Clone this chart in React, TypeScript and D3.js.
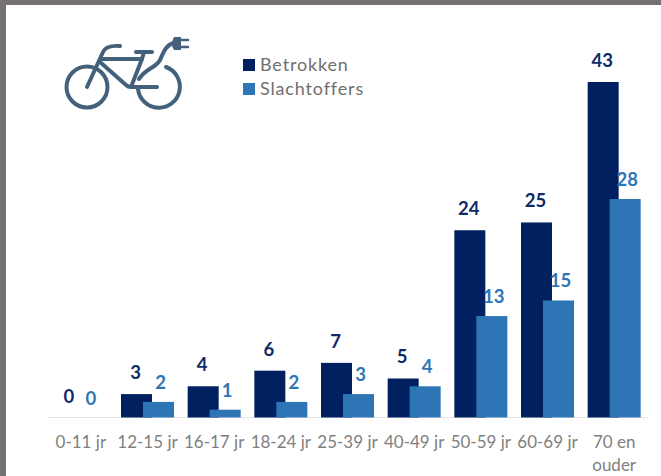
import React from "react";
import * as d3 from "d3";

const categories = ["0-11 jr", "12-15 jr", "16-17 jr", "18-24 jr", "25-39 jr", "40-49 jr", "50-59 jr", "60-69 jr", "70 en|ouder"];
const betrokken = [0, 3, 4, 6, 7, 5, 24, 25, 43];
const slachtoffers = [0, 2, 1, 2, 3, 4, 13, 15, 28];
const seriesNames = ["Betrokken", "Slachtoffers"];
const DARK = "#002060";
const BLUE = "#2E75B6";
const ICON = "#44617B";
const FONT = "Lato, Carlito, sans-serif";

export default function App() {
  const x = d3.scaleBand().domain(categories).range([47.5, 647.5]).padding(0);
  const y = d3.scaleLinear().domain([0, 43]).range([417.5, 82]);
  const bw = 31;
  const shift = 11;
  return (
    <svg width={661} height={476} style={{ position: "absolute", left: 0, top: 0, fontFamily: FONT }}>
      <rect width={661} height={476} fill="#fff" />
      <rect width={661} height={5} fill="#767171" />
      <rect width={6} height={476} fill="#767171" />
      <line x1={47.5} x2={648} y1={417.5} y2={417.5} stroke="#e4e4e4" strokeWidth={1.2} />
      {categories.map((c, i) => {
        const cx = x(c)! + x.bandwidth() / 2;
        const lines = c.split("|");
        return (
          <g key={c}>
            <rect x={cx - shift - bw / 2} y={y(betrokken[i])} width={bw} height={y(0) - y(betrokken[i])} fill={DARK} />
            <rect x={cx + shift - bw / 2} y={y(slachtoffers[i])} width={bw} height={y(0) - y(slachtoffers[i])} fill={BLUE} />
            <text x={cx - 12} y={y(betrokken[i]) - 15} textAnchor="middle" fontSize={18.5} fontWeight={700} fill="#0f2a66">{betrokken[i]}</text>
            <text x={cx + (i === 0 ? 10 : 13)} y={y(slachtoffers[i]) - 13} textAnchor="middle" fontSize={18.5} fontWeight={700} fill={BLUE}>{slachtoffers[i]}</text>
            {lines.map((l, k) => (
              <text key={l} x={cx} y={448 + k * 23} textAnchor="middle" fontSize={17} fill="#7f7f7f">{l}</text>
            ))}
          </g>
        );
      })}
      {seriesNames.map((s, i) => (
        <g key={s}>
          <rect x={243} y={59 + i * 24} width={12} height={12} fill={i === 0 ? DARK : BLUE} />
          <text x={260} y={71 + i * 24} fontSize={18} letterSpacing={0.85} fill="#6f6f6f">{s}</text>
        </g>
      ))}
      <g fill="none" stroke={ICON} strokeWidth={4} strokeLinecap="round" strokeLinejoin="round">
        <circle cx={87} cy={87} r={20.5} />
        <path d="M166 67 A21 21 0 1 1 138 89" />
        <path d="M87 87 L103 52 Q106 45 120 46" />
        <path d="M101 59 L142 59 L131 87" />
        <path d="M100 62 L126 85 Q128 87 131 87 L157 87" />
        <path d="M136 52 L152 52" />
        <path d="M142 59 L144 52" />
        <path d="M139 79 C146 68 156 68 160 60 C163 54 165 45 174 43" />
      </g>
      <path d="M174 37 L181 37 L181 50 L174 50 Q170 44 174 37 Z" fill={ICON} />
      <path d="M181 40 L188 40 M181 47 L188 47" stroke={ICON} strokeWidth={2.5} strokeLinecap="round" />
    </svg>
  );
}
